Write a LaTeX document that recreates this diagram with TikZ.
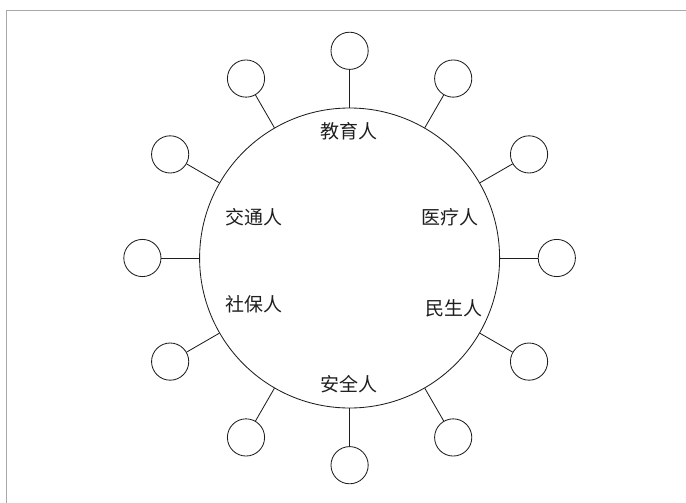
\documentclass[tikz,border=0pt]{standalone}
\usepackage{fontspec}
\newfontfamily\cjk{Noto Sans CJK SC}
\usepackage{tikz}
\usetikzlibrary{positioning}
\definecolor{ringink}{HTML}{1E1E1E}
\definecolor{framegray}{HTML}{A8A8A8}

\begin{document}
\begin{tikzpicture}[font=\cjk\fontsize{13.5}{16}\selectfont,
  hubring/.style={circle, draw=ringink, line width=0.6pt, minimum size=75mm, inner sep=0pt},
  satellite/.style={circle, draw=ringink, line width=0.6pt, minimum size=9.3mm, inner sep=0pt},
  spoke/.style={draw=ringink, line width=0.6pt},
  role/.style={text=ringink, inner sep=0pt}]
  % ---------- page ----------
  \useasboundingbox (-87.4mm, -61mm) rectangle (84.1mm, 64.5mm);
  \draw[framegray, line width=0.5pt] (-85.8mm, -61.5mm) -- (-85.8mm, 62mm) -- (84.6mm, 62mm);
  % ---------- ring and satellites ----------
  \node[hubring] (hub) at (0,0) {};
  \foreach \a in {0,30,...,330}
    { \node[satellite] (s\a) at (\a:51.8mm) {}; \draw[spoke] (hub) -- (s\a); }
  % ---------- roles ----------
  \node[role] (edu)    at (-0.2mm, 31.8mm)  {教育人};
  \node[role] (traffic) at (-24mm, 10.3mm)  {交通人};
  \node[role] (health) at (25mm, 10.3mm)    {医疗人};
  \node[role] (social) at (-24mm, -11.5mm)  {社保人};
  \node[role] (people) at (26.1mm, -12.5mm) {民生人};
  \node[role] (safety) at (-0.2mm, -31.5mm) {安全人};
\end{tikzpicture}
\end{document}
